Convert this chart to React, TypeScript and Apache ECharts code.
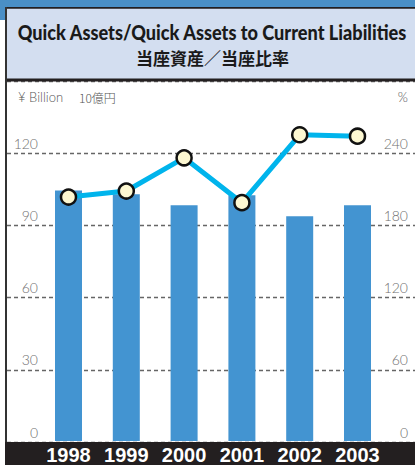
import React, { useEffect, useRef } from "react";
import * as echarts from "echarts";

const categories = ["1998", "1999", "2000", "2001", "2002", "2003"];
const quickAssets = [104.4, 102.8, 98.2, 102.4, 93.6, 98.2];
const quickRatio = [203.3, 208.3, 236.0, 198.6, 255.2, 254.0];
const leftMax = 150;
const leftInterval = 30;
const rightMax = 300;
const rightInterval = 60;

const titleEn = "Quick Assets/Quick Assets to Current Liabilities";
const titleJa = "当座資産／当座比率";
const unitEn = "¥ Billion";
const unitJa = "10億円";
const unitRight = "%";

function measure(text: string, font: string): number {
  const c = document.createElement("canvas");
  const ctx = c.getContext("2d");
  if (!ctx) return 0;
  ctx.font = font;
  return ctx.measureText(text).width;
}

export default function App() {
  const ref = useRef<HTMLDivElement>(null);
  useEffect(() => {
    if (!ref.current) return;
    const chart = echarts.init(ref.current, undefined, { renderer: "svg" });
    const titleFont = "900 21px Lato";
    const w = measure(titleEn, titleFont) || 390;
    const sx = 390 / w;
    const labelFont = { fontFamily: "Lato", fontSize: 14, color: "#707070", fontWeight: 300 as any };
    chart.setOption({
      animation: false,
      backgroundColor: "#fff",
      grid: [
        { left: 7, right: 0, top: 81, bottom: 23 },
        { left: 39.6, right: 28.6, top: 81, bottom: 23 },
      ],
      xAxis: [
        { gridIndex: 0, type: "category", data: categories, show: false },
        {
          gridIndex: 1,
          type: "category",
          data: categories,
          z: 10,
          axisLine: { show: false },
          axisTick: { show: false },
          axisLabel: {
            interval: 0,
            color: "#fff",
            fontFamily: "Liberation Sans",
            fontWeight: "bold",
            fontSize: 20,
            lineHeight: 20,
            margin: 4,
          },
        },
      ],
      yAxis: [
        {
          gridIndex: 0,
          type: "value",
          min: 0,
          max: leftMax,
          interval: leftInterval,
          position: "left",
          axisLine: { show: false },
          axisTick: { show: false },
          splitLine: { show: true, lineStyle: { color: "#666", type: [4, 3], width: 1.3 } },
          axisLabel: {
            ...labelFont,
            inside: true,
            align: "right",
            margin: 31,
            verticalAlign: "bottom",
            padding: [0, 0, 3, 0],
            showMaxLabel: false,
          },
        },
        {
          gridIndex: 0,
          type: "value",
          min: 0,
          max: rightMax,
          interval: rightInterval,
          position: "right",
          axisLine: { show: false },
          axisTick: { show: false },
          splitLine: { show: false },
          axisLabel: {
            ...labelFont,
            inside: true,
            align: "right",
            margin: 7,
            verticalAlign: "bottom",
            padding: [0, 0, 3, 0],
            showMaxLabel: false,
          },
        },
        { gridIndex: 1, type: "value", min: 0, max: leftMax, interval: leftInterval, show: false },
        { gridIndex: 1, type: "value", min: 0, max: rightMax, interval: rightInterval, show: false, position: "right" },
      ],
      series: [
        {
          type: "bar",
          xAxisIndex: 1,
          yAxisIndex: 2,
          data: quickAssets,
          barWidth: 27,
          itemStyle: { color: "#4394d1" },
          z: 3,
        },
        {
          type: "line",
          xAxisIndex: 1,
          yAxisIndex: 3,
          data: quickRatio,
          symbol: "circle",
          symbolSize: 15,
          lineStyle: { color: "#00b4ec", width: 5 },
          itemStyle: { color: "#fdf8d2", borderColor: "#111", borderWidth: 2.5 },
          z: 4,
        },
      ],
      graphic: [
        { type: "rect", z: 1, shape: { x: 0, y: 0, width: 415, height: 7 }, style: { fill: "#4a8fc6" } },
        { type: "rect", z: 1, shape: { x: 0, y: 0, width: 5, height: 20 }, style: { fill: "#4a8fc6" } },
        { type: "rect", z: 1, shape: { x: 5, y: 7, width: 410, height: 72 }, style: { fill: "#d3def0" } },
        { type: "rect", z: 1, shape: { x: 5, y: 7, width: 410, height: 1.8 }, style: { fill: "#231f20" } },
        { type: "rect", z: 1, shape: { x: 5, y: 78.5, width: 410, height: 3 }, style: { fill: "#231f20" } },
        { type: "rect", z: 1, shape: { x: 5, y: 7, width: 2, height: 436 }, style: { fill: "#333" } },
        { type: "rect", z: 1, shape: { x: 5, y: 442, width: 410, height: 23 }, style: { fill: "#231f20" } },
        {
          type: "text",
          z: 2,
          x: 212,
          y: 32,
          scaleX: sx,
          style: {
            text: titleEn,
            fontFamily: "Lato",
            fontWeight: 900,
            fontSize: 21,
            fill: "#1a1a1a",
            textAlign: "center",
            textVerticalAlign: "middle",
          },
        },
        {
          type: "text",
          z: 2,
          x: 212.5,
          y: 57.5,
          style: {
            text: titleJa,
            fontFamily: "Noto Sans CJK JP",
            fontWeight: "bold",
            fontSize: 17,
            fill: "#1a1a1a",
            textAlign: "center",
            textVerticalAlign: "middle",
          },
        },
        {
          type: "text",
          z: 2,
          x: 18,
          y: 97,
          style: {
            text: unitEn,
            fontFamily: "Lato",
            fontWeight: 300,
            fontSize: 13,
            fill: "#555",
            textAlign: "left",
            textVerticalAlign: "middle",
          },
        },
        {
          type: "text",
          z: 2,
          x: 79,
          y: 97,
          style: {
            text: unitJa,
            fontFamily: "Noto Sans CJK JP",
            fontWeight: 300,
            fontSize: 12,
            fill: "#555",
            textAlign: "left",
            textVerticalAlign: "middle",
          },
        },
        {
          type: "text",
          z: 2,
          x: 408,
          y: 97,
          style: {
            text: unitRight,
            fontFamily: "Lato",
            fontWeight: 300,
            fontSize: 13,
            fill: "#555",
            textAlign: "right",
            textVerticalAlign: "middle",
          },
        },
      ],
    });
    return () => chart.dispose();
  }, []);
  return (
    <div
      ref={ref}
      style={{ position: "fixed", left: 0, top: 0, width: 415, height: 465 }}
    />
  );
}
